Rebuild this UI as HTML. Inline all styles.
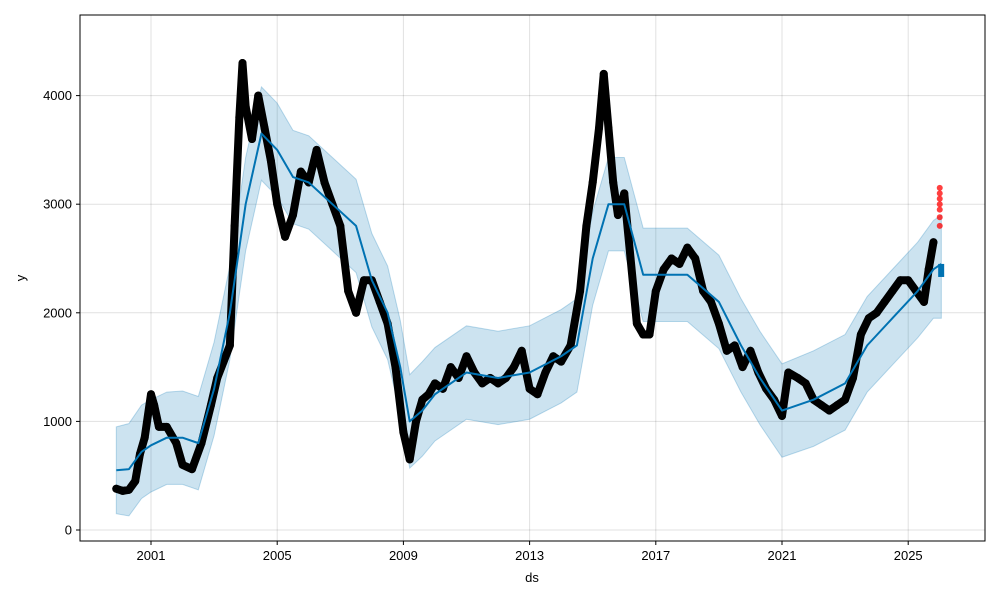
<!DOCTYPE html>
<html>
<head>
<meta charset="utf-8">
<style>
html,body{margin:0;padding:0;background:#fff;}
svg{display:block;font-family:"Liberation Sans","DejaVu Sans",sans-serif;}
</style>
</head>
<body>
<svg id="chart" width="1000" height="600" viewBox="0 0 1000 600" xmlns="http://www.w3.org/2000/svg">
  <rect x="0" y="0" width="1000" height="600" fill="#fff"/>
  <g id="grid"></g>
  <g id="band"></g>
  <g id="obs"></g>
  <g id="trend"></g>
  <g id="future"></g>
  <rect x="80" y="15" width="905" height="526" fill="none" stroke="#000" stroke-width="1"/>
  <g id="axes"></g>
  <text x="532" y="582" font-size="13" text-anchor="middle">ds</text>
  <text x="25" y="278" font-size="13" text-anchor="middle" transform="rotate(-90 25 278)">y</text>
</svg>
<script>
const xTicks = [2001, 2005, 2009, 2013, 2017, 2021, 2025];
const yTicks = [0, 1000, 2000, 3000, 4000];

const obsYears = [1999.9,2000.1,2000.3,2000.5,2000.65,2000.8,2001.0,2001.1,2001.25,2001.5,2001.8,2002.0,2002.3,2002.6,2002.9,2003.1,2003.3,2003.5,2003.65,2003.8,2003.9,2004.0,2004.2,2004.4,2004.6,2004.8,2005.0,2005.25,2005.5,2005.75,2006.0,2006.25,2006.5,2006.75,2007.0,2007.25,2007.5,2007.75,2008.0,2008.25,2008.5,2008.75,2009.0,2009.2,2009.4,2009.6,2009.8,2010.0,2010.25,2010.5,2010.75,2011.0,2011.25,2011.5,2011.75,2012.0,2012.25,2012.5,2012.75,2013.0,2013.25,2013.5,2013.75,2014.0,2014.3,2014.6,2014.8,2015.0,2015.2,2015.35,2015.5,2015.65,2015.8,2016.0,2016.2,2016.4,2016.6,2016.8,2017.0,2017.25,2017.5,2017.75,2018.0,2018.25,2018.5,2018.75,2019.0,2019.25,2019.5,2019.75,2020.0,2020.25,2020.5,2020.75,2021.0,2021.2,2021.5,2021.75,2022.0,2022.25,2022.5,2022.75,2023.0,2023.25,2023.5,2023.75,2024.0,2024.25,2024.5,2024.75,2025.0,2025.25,2025.5,2025.65,2025.8];
const obsValues = [380,360,370,450,700,850,1250,1150,950,950,800,600,560,800,1150,1400,1550,1700,2800,3800,4300,3900,3600,4000,3700,3400,3000,2700,2900,3300,3200,3500,3200,3000,2800,2200,2000,2300,2300,2100,1900,1500,900,650,1000,1200,1250,1350,1300,1500,1400,1600,1450,1350,1400,1350,1400,1500,1650,1300,1250,1450,1600,1550,1700,2200,2800,3200,3700,4200,3700,3200,2900,3100,2500,1900,1800,1800,2200,2400,2500,2450,2600,2500,2200,2100,1900,1650,1700,1500,1650,1450,1300,1200,1050,1450,1400,1350,1200,1150,1100,1150,1200,1400,1800,1950,2000,2100,2200,2300,2300,2200,2100,2400,2650];

const futureYears = [2026.0,2026.0,2026.0,2026.0,2026.0,2026.0,2026.0];
const futureValues = [2800,2880,2950,3000,3050,3100,3150];

const trendYears = [1999.9,2000.3,2000.7,2001.0,2001.5,2002.0,2002.5,2003.0,2003.5,2004.0,2004.5,2005.0,2005.5,2006.0,2006.75,2007.5,2008.0,2008.5,2008.9,2009.2,2009.6,2010.0,2011.0,2012.0,2013.0,2014.0,2014.5,2015.0,2015.5,2016.0,2016.6,2017.5,2018.0,2019.0,2019.7,2020.3,2021.0,2022.0,2023.0,2023.7,2024.5,2025.3,2025.8,2026.05];
const trendValues = [550,560,720,780,850,850,800,1300,2000,3000,3650,3500,3250,3200,3000,2800,2300,2000,1500,1000,1100,1250,1450,1400,1450,1600,1700,2500,3000,3000,2350,2350,2350,2100,1700,1400,1100,1200,1350,1700,1950,2200,2400,2450];
const upperValues = [950,980,1150,1200,1270,1280,1230,1730,2430,3430,4080,3930,3680,3630,3430,3230,2730,2430,1930,1430,1550,1680,1880,1830,1880,2030,2130,2930,3430,3430,2780,2780,2780,2530,2130,1830,1530,1650,1800,2150,2400,2650,2850,2900];
const lowerValues = [150,130,290,350,420,420,370,870,1570,2570,3220,3070,2820,2770,2570,2370,1870,1570,1070,570,680,820,1020,970,1020,1170,1270,2070,2570,2570,1920,1920,1920,1670,1270,970,670,770,920,1270,1520,1770,1950,1950];

const NS = "http://www.w3.org/2000/svg";
function xs(yr){ return 151 + (yr - 2001) * 31.55; }
function ys(v){ return 530 - v * 0.1086; }
function mk(tag, attrs, parent){
  const e = document.createElementNS(NS, tag);
  for (const k in attrs) e.setAttribute(k, attrs[k]);
  parent.appendChild(e);
  return e;
}
const grid = document.getElementById('grid');
const axes = document.getElementById('axes');
xTicks.forEach(t => {
  const g = mk('line', {x1:xs(t), x2:xs(t), y1:15, y2:541, stroke:'#000', 'stroke-opacity':0.12, 'stroke-width':1}, grid);
  
  
  const tk = mk('line', {x1:xs(t), x2:xs(t), y1:541, y2:545, stroke:'#000'}, axes);
  
  
  const lb = mk('text', {x:xs(t), y:560, 'font-size':13, 'text-anchor':'middle'}, axes);
  lb.textContent = t;
  
  
});
yTicks.forEach(t => {
  const g = mk('line', {x1:80, x2:985, y1:ys(t), y2:ys(t), stroke:'#000', 'stroke-opacity':0.12, 'stroke-width':1}, grid);
  
  
  const tk = mk('line', {x1:76, x2:80, y1:ys(t), y2:ys(t), stroke:'#000'}, axes);
  
  
  const lb = mk('text', {x:72, y:ys(t)+4.5, 'font-size':13, 'text-anchor':'end'}, axes);
  lb.textContent = t;
  
  
});

// band
let d = '';
trendYears.forEach((yr,i) => { d += (i ? 'L' : 'M') + xs(yr) + ',' + ys(upperValues[i]); });
for (let i = trendYears.length - 1; i >= 0; i--) d += 'L' + xs(trendYears[i]) + ',' + ys(lowerValues[i]);
d += 'Z';
const band = mk('path', {d:d, fill:'#0072B2', 'fill-opacity':0.2, stroke:'#0072B2', 'stroke-opacity':0.25, 'stroke-width':1}, document.getElementById('band'));



// observed
const obs = document.getElementById('obs');
const op = obsYears.map((yr,i) => xs(yr) + ',' + ys(obsValues[i])).join(' ');
const ol = mk('polyline', {points:op, fill:'none', stroke:'#000', 'stroke-width':8, 'stroke-linejoin':'round', 'stroke-linecap':'round'}, obs);


obsYears.forEach((yr,i) => {
  const c = mk('circle', {cx:xs(yr), cy:ys(obsValues[i]), r:4, fill:'#000'}, obs);
  
  
});

// trend
const tp = trendYears.map((yr,i) => xs(yr) + ',' + ys(trendValues[i])).join(' ');
const tl = mk('polyline', {points:tp, fill:'none', stroke:'#0072B2', 'stroke-width':2, 'stroke-linejoin':'round'}, document.getElementById('trend'));


const fb = mk('rect', {x:xs(2025.95), y:ys(2450), width:6, height:ys(2330)-ys(2450), fill:'#0072B2'}, document.getElementById('trend'));



// future points
futureYears.forEach((yr,i) => {
  const c = mk('circle', {cx:xs(yr), cy:ys(futureValues[i]), r:3, fill:'#ff0000', 'fill-opacity':0.75}, document.getElementById('future'));
  
  
});
</script>
</body>
</html>
